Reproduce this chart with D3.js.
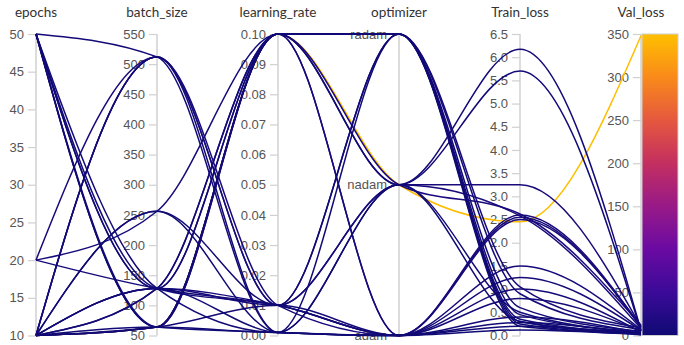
<!DOCTYPE html>
<html>
<head>
<meta charset="utf-8">
<script src="https://cdn.jsdelivr.net/npm/d3@7/dist/d3.min.js"></script>
<style>
  html, body { margin: 0; padding: 0; background: #fff; }
  svg { display: block; font-family: Lato, "Open Sans", sans-serif; }
  .tick text { fill: #555; font-size: 13px; }
  .title { fill: #333; font-size: 13.5px; }
</style>
</head>
<body>
<svg id="chart" width="684" height="345"></svg>
<script>
// Hyperparameter sweep: one entry per run in each column array
const runEpochs    = [10, 50, 10, 50, 20, 10, 50, 10,   10, 50, 10, 10, 20, 10, 50, 10,   10, 50, 20, 10, 50, 10, 10, 10, 50, 10, 10];
const runBatchSize = [64, 64, 128, 128, 256, 512, 128, 256,   64, 64, 64, 128, 512, 128, 512, 64,   64, 128, 128, 128, 128, 512, 512, 256, 64, 128, 64];
const runLearningRate = [0.1, 0.1, 0.1, 0.1, 0.1, 0.01, 0.001, 0.01,   0.1, 0.1, 0.1, 0.1, 0.01, 0.01, 0.001, 0.001,   0.1, 0.1, 0.01, 0.01, 0.01, 0.001, 0.01, 0.001, 0.001, 0.001, 0.01];
const runOptimizer = ["radam", "radam", "radam", "radam", "radam", "radam", "radam", "radam",
                      "nadam", "nadam", "nadam", "nadam", "nadam", "nadam", "nadam", "nadam",
                      "adam", "adam", "adam", "adam", "adam", "adam", "adam", "adam", "adam", "adam", "adam"];
const runTrainLoss = [0.45, 0.30, 0.60, 0.25, 0.90, 1.05, 0.35, 0.20,   6.17, 5.70, 2.45, 2.62, 3.25, 2.58, 0.50, 0.30,   2.55, 2.60, 1.50, 1.25, 0.80, 0.40, 2.50, 0.20, 0.28, 0.12, 1.00];
const runValLoss   = [4, 3, 5, 2, 7, 9, 3, 2,   6, 5, 348, 12, 10, 8, 4, 2,   9, 10, 7, 6, 5, 3, 11, 2, 1, 1, 4];

// Axis tick values
const epochTicks = [10, 15, 20, 25, 30, 35, 40, 45, 50];
const batchTicks = [50, 100, 150, 200, 250, 300, 350, 400, 450, 500, 550];
const lrTicks = [0, 0.01, 0.02, 0.03, 0.04, 0.05, 0.06, 0.07, 0.08, 0.09, 0.1];
const optimizerCategories = ["adam", "nadam", "radam"];
const trainLossTicks = [0, 0.5, 1, 1.5, 2, 2.5, 3, 3.5, 4, 4.5, 5, 5.5, 6, 6.5];
const valLossTicks = [0, 50, 100, 150, 200, 250, 300, 350];

// Colour scale for val_loss
const colorStops = ["#0f0a74", "#3b0a98", "#6a0aa2", "#981a88", "#c32f60", "#e5583e", "#f98a1a", "#ffc000"];

const svg = d3.select("#chart");
const yTop = 34, yBottom = 335.5;

const dims = ["epochs", "batch_size", "learning_rate", "optimizer", "Train_loss", "Val_loss"];
const x = d3.scalePoint().domain(dims).range([36, 641]);

const y = {
  epochs: d3.scaleLinear().domain([10, 50]).range([yBottom, yTop]),
  batch_size: d3.scaleLinear().domain([50, 550]).range([yBottom, yTop]),
  learning_rate: d3.scaleLinear().domain([0, 0.1]).range([yBottom, yTop]),
  optimizer: d3.scalePoint().domain(optimizerCategories).range([yBottom, yTop]),
  Train_loss: d3.scaleLinear().domain([0, 6.5]).range([yBottom, yTop]),
  Val_loss: d3.scaleLinear().domain([0, 350]).range([yBottom, yTop])
};

const color = d3.scaleLinear()
  .domain(colorStops.map((_, i) => 350 * i / (colorStops.length - 1)))
  .range(colorStops)
  .interpolate(d3.interpolateRgb);

const runs = runEpochs.map((e, i) => ({
  epochs: e,
  batch_size: runBatchSize[i],
  learning_rate: runLearningRate[i],
  optimizer: runOptimizer[i],
  Train_loss: runTrainLoss[i],
  Val_loss: runValLoss[i]
}));

// Colour bar for Val_loss
const defs = svg.append("defs");
const grad = defs.append("linearGradient").attr("id", "valGrad")
  .attr("x1", 0).attr("y1", 1).attr("x2", 0).attr("y2", 0);
colorStops.forEach((c, i) => grad.append("stop")
  .attr("offset", (i / (colorStops.length - 1)) * 100 + "%").attr("stop-color", c));

// Axes
const tickFormats = {
  epochs: d3.format("d"),
  batch_size: d3.format("d"),
  learning_rate: d3.format(".2f"),
  optimizer: d => d,
  Train_loss: d3.format(".1f"),
  Val_loss: d3.format("d")
};
const tickValues = {
  epochs: epochTicks, batch_size: batchTicks, learning_rate: lrTicks,
  optimizer: optimizerCategories, Train_loss: trainLossTicks, Val_loss: valLossTicks
};

dims.forEach(dim => {
  const g = svg.append("g").attr("transform", `translate(${x(dim)},0)`);
  const axis = d3.axisLeft(y[dim]).tickValues(tickValues[dim])
    .tickFormat(tickFormats[dim]).tickSize(8).tickPadding(4);
  g.call(axis);
  g.select(".domain").attr("stroke", "#d0d0d0").attr("stroke-width", 1.5)
    .attr("d", `M0,${yBottom}V${yTop}`);
  g.selectAll(".tick line").attr("stroke", "#d0d0d0").attr("stroke-width", 1.2);
  g.selectAll(".tick text").attr("fill", "#555");
  svg.append("text").attr("class", "title")
    .attr("x", x(dim)).attr("y", 17).attr("text-anchor", "middle").text(dim);
});

svg.append("rect")
  .attr("x", x("Val_loss") + 1).attr("y", yTop)
  .attr("width", 36).attr("height", yBottom - yTop)
  .attr("fill", "url(#valGrad)")
  .attr("stroke", "#d0d0d0").attr("stroke-width", 1);

// Run polylines, smoothed between axes; highest val_loss drawn first (underneath)
const line = d3.line().curve(d3.curveMonotoneX);
const ordered = runs.slice().sort((a, b) => b.Val_loss - a.Val_loss);
svg.append("g").attr("fill", "none")
  .selectAll("path").data(ordered).join("path")
  .attr("d", r => line(dims.map(dim => [x(dim), y[dim](r[dim])])))
  .attr("stroke", r => color(r.Val_loss))
  .attr("stroke-width", 1.5);
</script>
</body>
</html>
